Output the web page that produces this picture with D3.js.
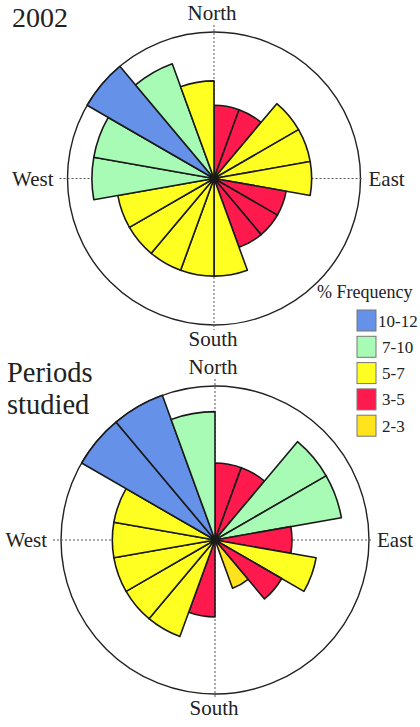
<!DOCTYPE html>
<html>
<head>
<meta charset="utf-8">
<script src="https://cdn.jsdelivr.net/npm/d3@7"></script>
<style>
  body { margin: 0; background: #fff; }
</style>
</head>
<body>
<script>
// wind direction sectors, degrees clockwise from north (start of each 20 deg sector)
var bearings = [0, 20, 40, 60, 80, 100, 120, 140, 160, 180, 200, 220, 240, 260, 280, 300, 320, 340];

// % frequency per sector
var freq2002 = [4, 4, 6, 6, 6, 4, 4, 4, 6, 6, 6, 6, 6, 8.5, 8.5, 11, 8.5, 6];
var freqPeriods = [4, 4, 8.5, 8.5, 4, 6, 4, 2.5, 0, 4, 6, 6, 6, 6, 6, 11, 11, 8.5];

// frequency classes (legend)
var classBreaks = [2, 3, 5, 7, 10];
var classLabels = ["10-12", "7-10", "5-7", "3-5", "2-3"];
var classColors = ["#6592e8", "#a8fbb4", "#ffff22", "#ff1a4e", "#ffe31c"];

var compass = ["North", "East", "South", "West"];

var serif = "Liberation Serif";

var svg = d3.select("body").append("svg")
    .attr("width", 420)
    .attr("height", 727)
    .attr("font-family", serif);

var color = d3.scaleThreshold()
    .domain(classBreaks)
    .range(["none"].concat(classColors.slice().reverse()));
// ring index for each class, outer circle = 6
var ring = d3.scaleThreshold()
    .domain(classBreaks)
    .range([0, 2, 3, 4, 5, 6]);
var angle = d3.scaleBand()
    .domain(bearings)
    .range([0, 2 * Math.PI]);

var label = function(sel, str, size) {
    return sel.append("text").text(str)
        .attr("font-family", serif)
        .attr("font-size", size)
        .attr("fill", "#222");
}

var rose = function(cx, cy, R, values) {
    var g = svg.append("g").attr("transform", "translate(" + cx + "," + cy + ")");
    var radius = d3.scaleLinear().domain([0, 6]).range([0, R]);

    g.append("circle")
        .attr("r", R)
        .attr("fill", "none")
        .attr("stroke", "#222")
        .attr("stroke-width", 1.4);

    // dotted axes
    g.append("line")
        .attr("x1", -R - 8).attr("x2", R + 3)
        .attr("y1", 0).attr("y2", 0);
    g.append("line")
        .attr("x1", 0).attr("x2", 0)
        .attr("y1", -R - 7).attr("y2", R + 5);
    g.selectAll("line")
        .attr("stroke", "#555")
        .attr("stroke-width", 1)
        .attr("stroke-dasharray", "2,2");

    var data = bearings.map(function(b, i) { return {b: b, v: values[i]}; })
        .filter(function(d) { return ring(d.v) > 0; });

    var arc = d3.arc()
        .innerRadius(0)
        .outerRadius(function(d) { return radius(ring(d.v)); })
        .startAngle(function(d) { return angle(d.b); })
        .endAngle(function(d) { return angle(d.b) + angle.bandwidth(); });

    g.selectAll("path.sector")
        .data(data)
        .enter()
        .append("path")
        .attr("class", "sector")
        .attr("d", arc)
        .attr("fill", function(d) { return color(d.v); })
        .attr("stroke", "#1a1a1a")
        .attr("stroke-width", 1.6)
        .attr("stroke-linejoin", "round");

    var fs = 21;
    label(g, compass[0], fs)
        .attr("x", -2).attr("y", -R - 12)
        .attr("text-anchor", "middle");
    label(g, compass[2], fs)
        .attr("x", -1).attr("y", R + 21)
        .attr("text-anchor", "middle");
    label(g, compass[3], fs)
        .attr("x", -R - 14).attr("y", 7)
        .attr("text-anchor", "end");
    label(g, compass[1], fs)
        .attr("x", R + 8).attr("y", 7)
        .attr("text-anchor", "start");
}

rose(214, 178.5, 146.5, freq2002);
rose(215, 540, 154, freqPeriods);

label(svg, "2002", 28).attr("x", 12).attr("y", 27);
label(svg, "Periods", 28.5).attr("x", 7).attr("y", 382);
label(svg, "studied", 28.5).attr("x", 7).attr("y", 414);

// legend
var legend = svg.append("g").attr("transform", "translate(317,298)");
label(legend, "% Frequency", 18).attr("x", 0).attr("y", 0);
var item = legend.selectAll("g.item")
    .data(classLabels)
    .enter()
    .append("g")
    .attr("class", "item")
    .attr("transform", function(d, i) { return "translate(40," + (12 + i * 26.3) + ")"; });
item.append("rect")
    .attr("width", 19).attr("height", 21)
    .attr("fill", function(d, i) { return classColors[i]; })
    .attr("stroke", "#777")
    .attr("stroke-width", 1);
item.each(function(d, i) {
    label(d3.select(this), d, 17)
        .attr("x", i == 0 ? 21 : 25)
        .attr("y", 16.5);
});
</script>
</body>
</html>
